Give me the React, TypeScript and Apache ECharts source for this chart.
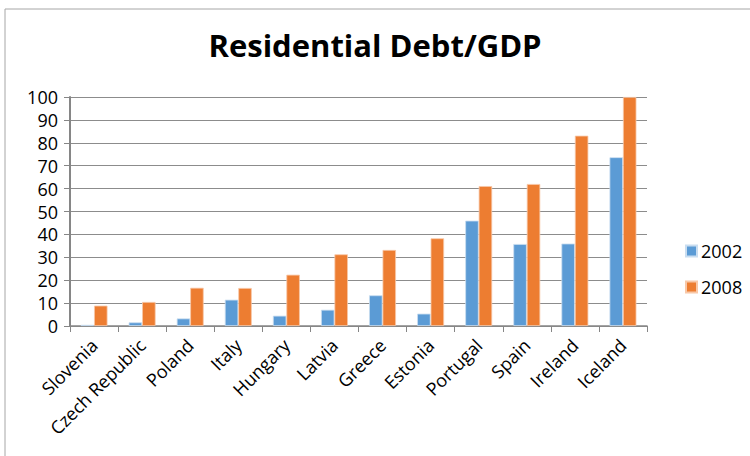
import React, { useEffect, useRef } from "react";
import * as echarts from "echarts";

const categories = ["Slovenia", "Czech Republic", "Poland", "Italy", "Hungary", "Latvia", "Greece", "Estonia", "Portugal", "Spain", "Ireland", "Iceland"];
const values2002 = [0.5, 1.6, 3.3, 11.5, 4.5, 7.1, 13.4, 5.4, 46, 35.8, 36, 73.7];
const values2008 = [8.9, 10.5, 16.7, 16.6, 22.4, 31.3, 33.2, 38.3, 61.1, 62, 83.1, 100];
const seriesNames = ["2002", "2008"];
const titleText = "Residential Debt/GDP";

export default function App() {
  const ref = useRef<HTMLDivElement>(null);
  useEffect(() => {
    document.body.style.margin = "0";
    const chart = echarts.init(ref.current!, null, { renderer: "svg" });
    const font = "'Open Sans', sans-serif";
    chart.setOption({
      animation: false,
      backgroundColor: "#ffffff",
      title: {
        text: titleText,
        left: "center",
        top: 24,
        textStyle: { fontFamily: font, fontWeight: "bold", fontSize: 31, color: "#000" },
      },
      graphic: [
        {
          type: "rect",
          shape: { x: 5, y: 9, width: 780, height: 480 },
          style: { fill: "none", stroke: "#a6a6a6", lineWidth: 1 },
          silent: true,
        },
      ],
      legend: {
        orient: "vertical",
        left: 680,
        top: 237,
        itemWidth: 11,
        itemHeight: 11,
        itemGap: 18,
        icon: "rect",
        textStyle: { fontFamily: font, fontSize: 18, color: "#000", padding: [0, 0, 0, -1] },
        data: seriesNames,
      },
      grid: { left: 70, right: 103, top: 97, bottom: 130 },
      xAxis: {
        type: "category",
        data: categories,
        axisLine: { lineStyle: { color: "#868686", width: 1.5 } },
        axisTick: { show: true, length: 6, lineStyle: { color: "#868686" } },
        axisLabel: { rotate: 45, interval: 0, fontFamily: font, fontSize: 18, color: "#000", margin: 16 },
      },
      yAxis: {
        type: "value",
        min: 0,
        max: 100,
        interval: 10,
        axisLine: { show: true, lineStyle: { color: "#868686", width: 2 } },
        axisTick: { show: true, length: 6, lineStyle: { color: "#868686" } },
        splitLine: { lineStyle: { color: "#8c8c8c", width: 1 } },
        axisLabel: { fontFamily: font, fontSize: 18, color: "#000", margin: 12 },
      },
      series: [
        {
          name: seriesNames[0],
          type: "bar",
          data: values2002,
          barGap: "0%",
          barCategoryGap: "44%",
          itemStyle: { color: "#5b9bd5", borderColor: "#c9ddf0", borderWidth: 0.8 },
        },
        {
          name: seriesNames[1],
          type: "bar",
          data: values2008,
          itemStyle: { color: "#ed7d31", borderColor: "#f8c8a8", borderWidth: 0.8 },
        },
      ],
    });
    return () => chart.dispose();
  }, []);
  return <div ref={ref} style={{ width: 750, height: 456 }} />;
}
